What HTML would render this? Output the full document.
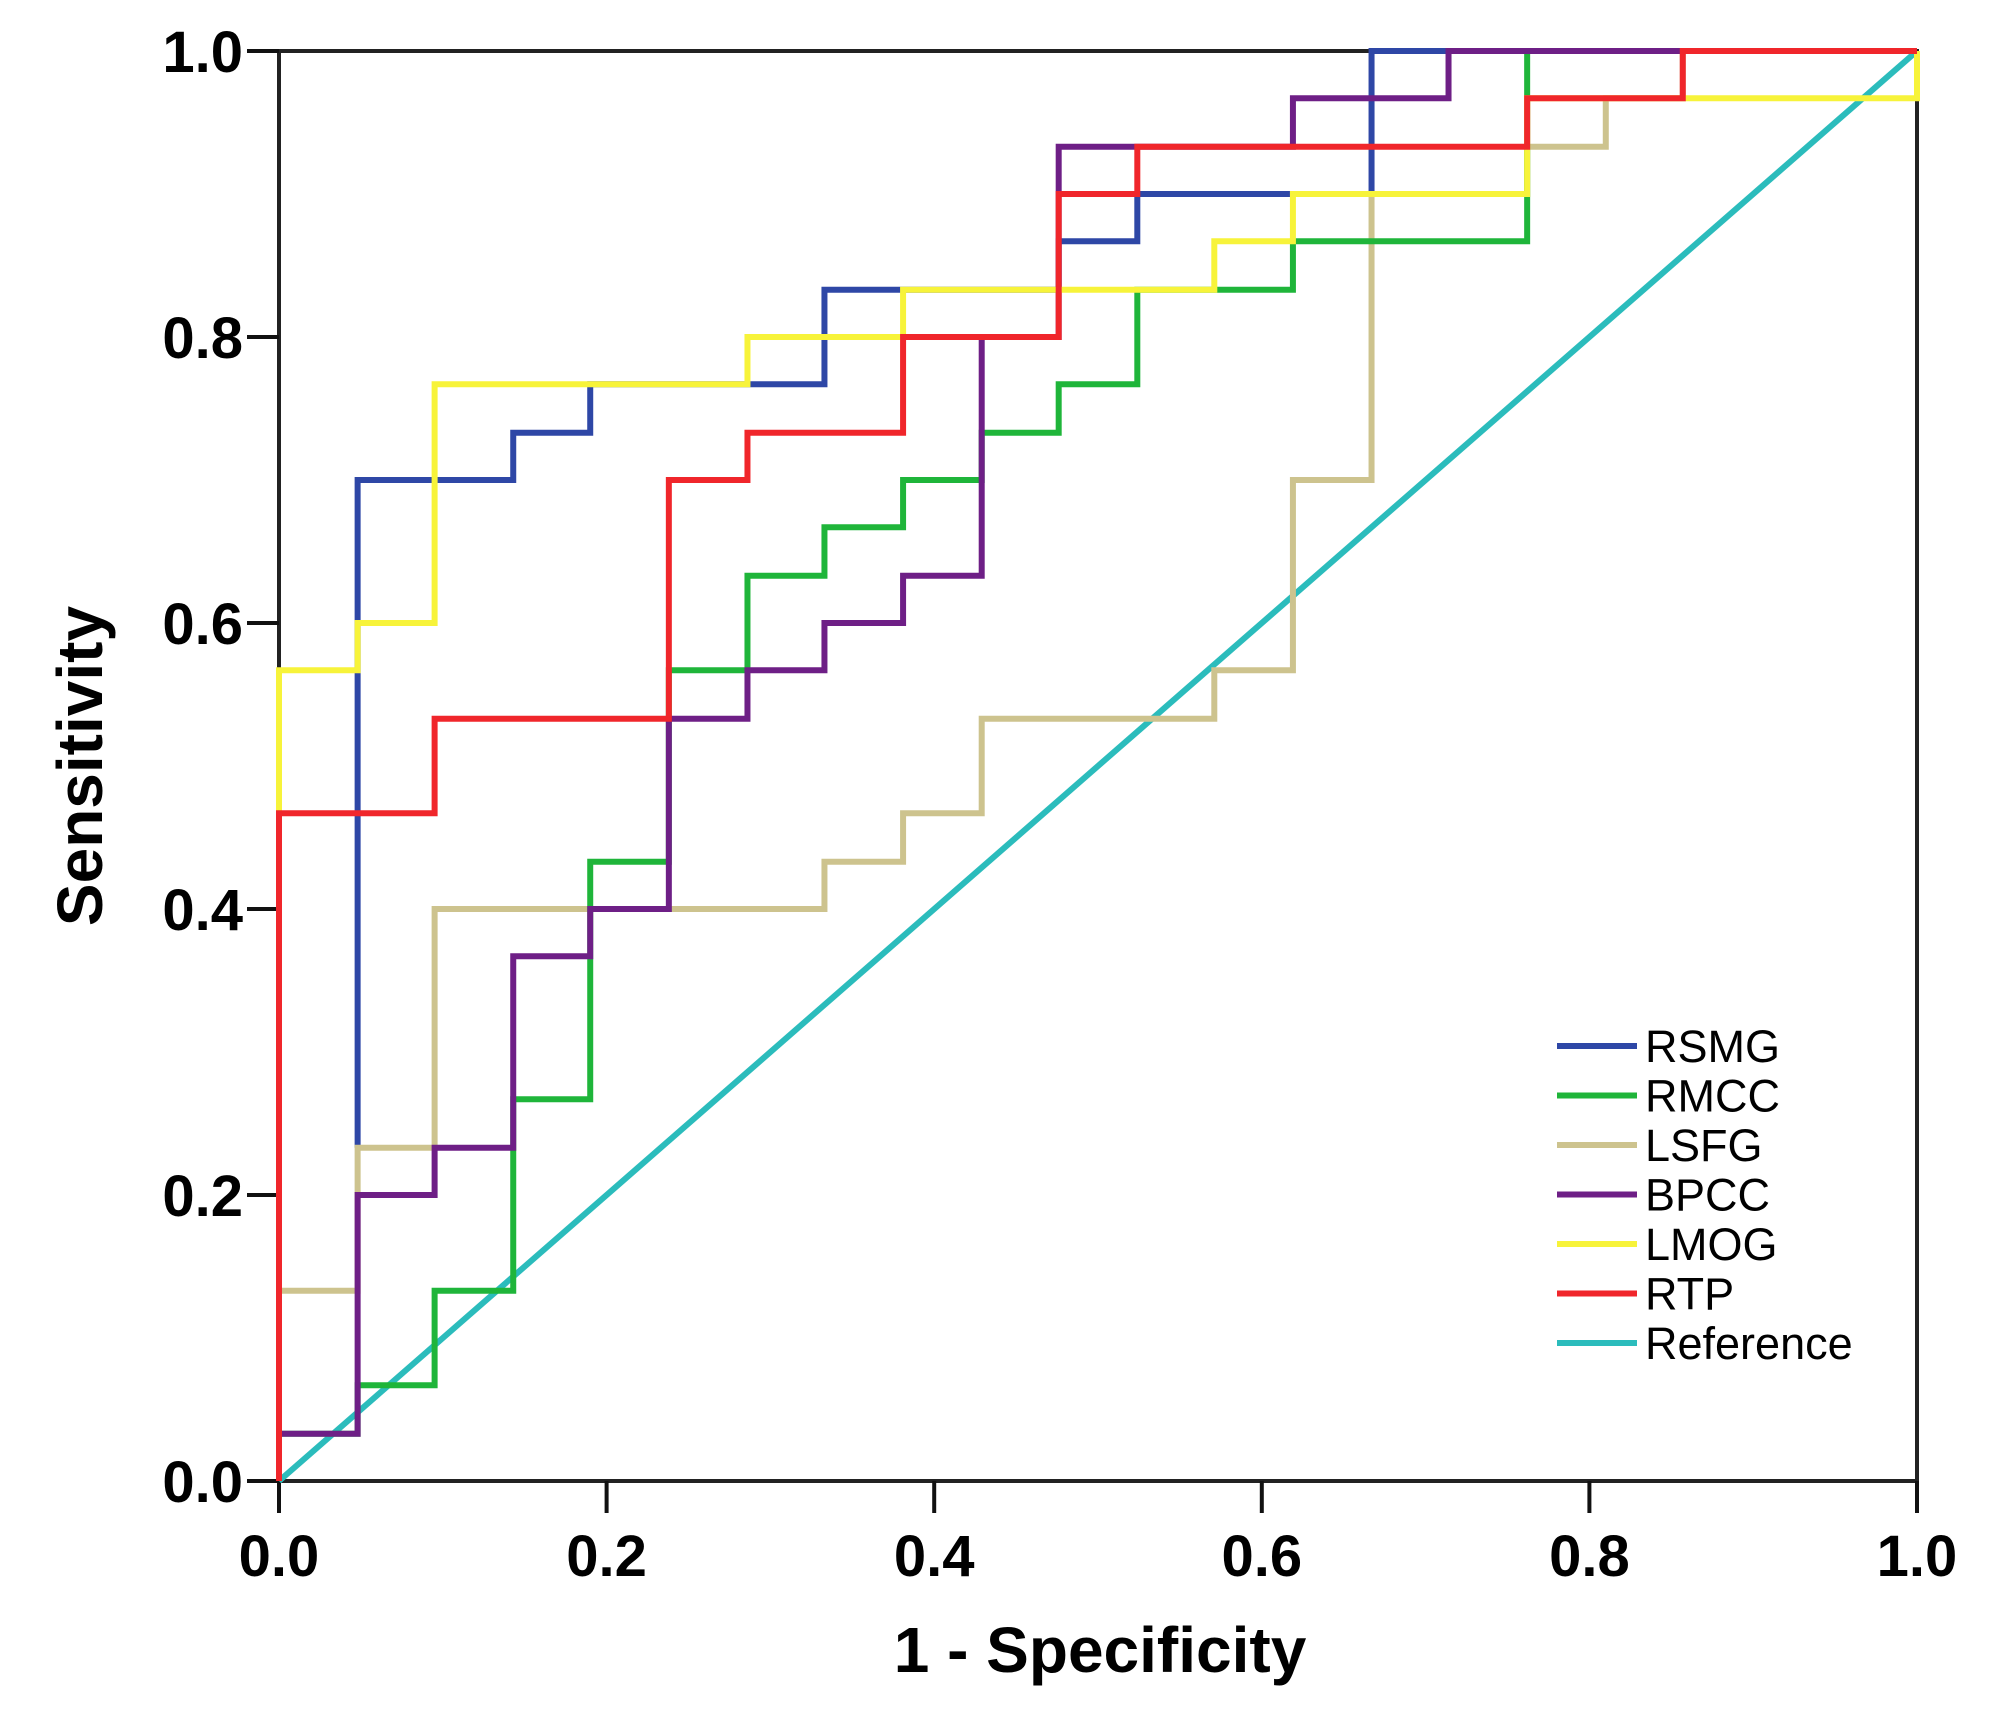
<!DOCTYPE html>
<html><head><meta charset="utf-8"><style>
html,body{margin:0;padding:0;background:#fff;}
svg{display:block;font-family:"Liberation Sans",Arial,sans-serif;}
</style></head><body>
<svg id="chart" width="2000" height="1714" viewBox="0 0 2000 1714" xmlns="http://www.w3.org/2000/svg">
<g id="axes"></g>
<g id="series"></g>
<g id="legend"></g>
</svg>
<script>
const xTicks = [0, 0.2, 0.4, 0.6, 0.8, 1.0];
const yTicks = [0, 0.2, 0.4, 0.6, 0.8, 1.0];
const tickLabels = ["0.0","0.2","0.4","0.6","0.8","1.0"];
const seriesNames = ["RSMG","RMCC","LSFG","BPCC","LMOG","RTP","Reference"];
const seriesColors = ["#2e47a6","#1fb53a","#cdc38e","#6e1f86","#f7f33a","#f0262b","#2bbcbc"];
const rsmgX = [0.048,0.048,0.143,0.143,0.19,0.19,0.333,0.333,0.476,0.476,0.524,0.524,0.667,0.667,1];
const rsmgY = [0.233,0.7,0.7,0.733,0.733,0.767,0.767,0.833,0.833,0.867,0.867,0.9,0.9,1,1];
const rmccX = [0,0,0.048,0.048,0.095,0.095,0.143,0.143,0.19,0.19,0.238,0.238,0.286,0.286,0.333,0.333,0.381,0.381,0.429,0.429,0.476,0.476,0.524,0.524,0.619,0.619,0.762,0.762,1];
const rmccY = [0,0.033,0.033,0.067,0.067,0.133,0.133,0.267,0.267,0.433,0.433,0.567,0.567,0.633,0.633,0.667,0.667,0.7,0.7,0.733,0.733,0.767,0.767,0.833,0.833,0.867,0.867,1,1];
const lsfgX = [0,0,0.048,0.048,0.095,0.095,0.333,0.333,0.381,0.381,0.429,0.429,0.571,0.571,0.619,0.619,0.667,0.667,0.762,0.762,0.81,0.81,0.857,0.857,1];
const lsfgY = [0,0.133,0.133,0.233,0.233,0.4,0.4,0.433,0.433,0.467,0.467,0.533,0.533,0.567,0.567,0.7,0.7,0.9,0.9,0.933,0.933,0.967,0.967,1,1];
const bpccX = [0,0,0.048,0.048,0.095,0.095,0.143,0.143,0.19,0.19,0.238,0.238,0.286,0.286,0.333,0.333,0.381,0.381,0.429,0.429,0.476,0.476,0.619,0.619,0.714,0.714,1];
const bpccY = [0,0.033,0.033,0.2,0.2,0.233,0.233,0.367,0.367,0.4,0.4,0.533,0.533,0.567,0.567,0.6,0.6,0.633,0.633,0.8,0.8,0.933,0.933,0.967,0.967,1,1];
const lmogX = [0,0,0.048,0.048,0.095,0.095,0.286,0.286,0.381,0.381,0.571,0.571,0.619,0.619,0.762,0.762,1,1];
const lmogY = [0,0.567,0.567,0.6,0.6,0.767,0.767,0.8,0.8,0.833,0.833,0.867,0.867,0.9,0.9,0.967,0.967,1];
const rtpX = [0,0,0.095,0.095,0.238,0.238,0.286,0.286,0.381,0.381,0.476,0.476,0.524,0.524,0.762,0.762,0.857,0.857,1];
const rtpY = [0,0.467,0.467,0.533,0.533,0.7,0.7,0.733,0.733,0.8,0.8,0.9,0.9,0.933,0.933,0.967,0.967,1,1];
const refX = [0,1];
const refY = [0,1];

const X0=279, X1=1917, Y0=1481, Y1=51;
const sx = v => X0 + v*(X1-X0);
const sy = v => Y0 - v*(Y0-Y1);
const NS="http://www.w3.org/2000/svg";
function mk(tag, parent){const e=document.createElementNS(NS,tag);parent.appendChild(e);return e;}

const ax=document.getElementById('axes');
const frame=mk('rect',ax);
frame.setAttribute('x',X0);frame.setAttribute('y',Y1);frame.setAttribute('width',X1-X0);frame.setAttribute('height',Y0-Y1);
frame.setAttribute('fill','none');frame.setAttribute('stroke','#222');frame.setAttribute('stroke-width','4');


xTicks.forEach((v,i)=>{
  const t=mk('line',ax);
  t.setAttribute('x1',sx(v));t.setAttribute('x2',sx(v));t.setAttribute('y1',Y0);t.setAttribute('y2',Y0+32);
  t.setAttribute('stroke','#111');t.setAttribute('stroke-width','4');
  
  
  const l=mk('text',ax);
  l.setAttribute('x',sx(v));l.setAttribute('y',1576);l.setAttribute('text-anchor','middle');
  l.setAttribute('font-size','58');l.setAttribute('font-weight','bold');l.textContent=tickLabels[i];
  
  
});
yTicks.forEach((v,i)=>{
  const t=mk('line',ax);
  t.setAttribute('x1',X0-32);t.setAttribute('x2',X0);t.setAttribute('y1',sy(v));t.setAttribute('y2',sy(v));
  t.setAttribute('stroke','#111');t.setAttribute('stroke-width','4');
  
  
  const l=mk('text',ax);
  l.setAttribute('x',243);l.setAttribute('y',sy(v)+21);l.setAttribute('text-anchor','end');
  l.setAttribute('font-size','58');l.setAttribute('font-weight','bold');l.textContent=tickLabels[i];
  
  
});
const xt=mk('text',ax);
xt.setAttribute('x',1100);xt.setAttribute('y',1672);xt.setAttribute('text-anchor','middle');
xt.setAttribute('font-size','64');xt.setAttribute('font-weight','bold');xt.textContent='1 - Specificity';


const yt=mk('text',ax);
yt.setAttribute('transform','translate(102,766) rotate(-90)');yt.setAttribute('text-anchor','middle');
yt.setAttribute('font-size','64');yt.setAttribute('font-weight','bold');yt.textContent='Sensitivity';



const seriesG=document.getElementById('series');
const allX=[rsmgX,rmccX,lsfgX,bpccX,lmogX,rtpX,refX];
const allY=[rsmgY,rmccY,lsfgY,bpccY,lmogY,rtpY,refY];
const drawOrder=[6,0,2,1,3,4,5];
drawOrder.forEach(i=>{
  const p=mk('polyline',seriesG);
  p.setAttribute('points', allX[i].map((x,k)=>sx(x)+','+sy(allY[i][k])).join(' '));
  p.setAttribute('fill','none');
  p.setAttribute('stroke',seriesColors[i]);
  p.setAttribute('stroke-width','6');
  
  
});

const lg=document.getElementById('legend');
seriesNames.forEach((n,i)=>{
  const y=1046+i*49.5;
  const ln=mk('line',lg);
  ln.setAttribute('x1',1557);ln.setAttribute('x2',1637);ln.setAttribute('y1',y);ln.setAttribute('y2',y);
  ln.setAttribute('stroke',seriesColors[i]);ln.setAttribute('stroke-width','6');
  
  
  const tx=mk('text',lg);
  tx.setAttribute('x',1645);tx.setAttribute('y',y+16);tx.setAttribute('font-size','45');tx.textContent=n;
  
  
});
</script>
</body></html>
